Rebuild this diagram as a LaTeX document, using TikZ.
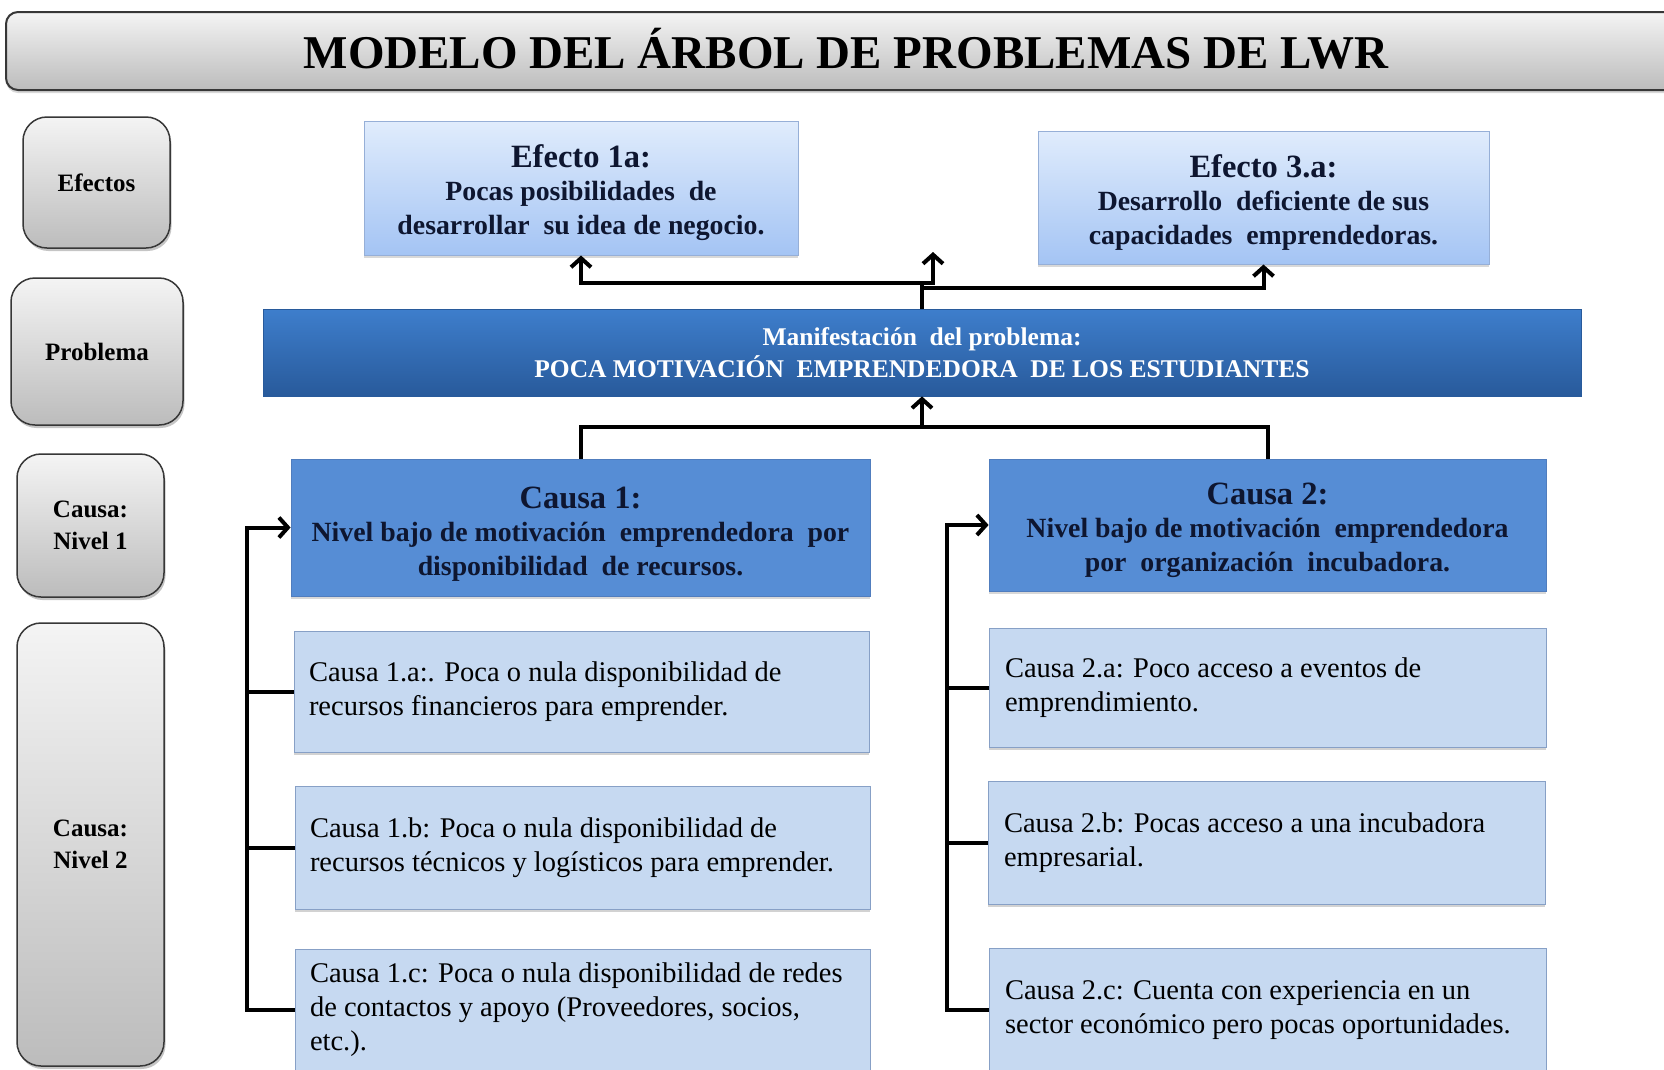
\documentclass[tikz,border=0pt]{standalone}
\usepackage{fontspec}
\setmainfont{Liberation Serif}
\usetikzlibrary{arrows.meta,shadows}
\definecolor{navytxt}{RGB}{14,22,48}
\definecolor{grayTop}{RGB}{244,244,244}
\definecolor{grayBot}{RGB}{188,188,188}
\definecolor{grayBd}{RGB}{55,55,55}
\definecolor{efTop}{RGB}{224,236,252}
\definecolor{efBot}{RGB}{164,196,244}
\definecolor{efBd}{RGB}{150,175,215}
\definecolor{prTop}{RGB}{62,126,204}
\definecolor{prBot}{RGB}{40,90,155}
\definecolor{caFill}{RGB}{86,141,213}
\definecolor{caBd}{RGB}{80,125,190}
\definecolor{subFill}{RGB}{198,217,241}
\definecolor{subBd}{RGB}{135,160,198}
\newcommand{\hdf}{\fontsize{32.5}{36}\selectfont\bfseries}
\newcommand{\bdf}{\fontsize{27.8}{34}\selectfont\bfseries}
\begin{document}
\begin{tikzpicture}[x=1pt,y=-1pt,
  base/.style={rectangle, inner sep=0pt, anchor=center},
  graybox/.style={base, rounded corners=24pt, top color=grayTop, bottom color=grayBot,
     draw=grayBd, line width=1.5pt, align=center, text=black,
     drop shadow={shadow xshift=1.5pt, shadow yshift=-3pt, opacity=0.45, fill=gray}},
  titlebox/.style={base, rounded corners=12pt, top color=grayTop, bottom color=grayBot,
     draw=grayBd, line width=2pt,
     drop shadow={shadow xshift=0pt, shadow yshift=-3pt, opacity=0.3, fill=gray}},
  efbox/.style={base, top color=efTop, bottom color=efBot, draw=efBd, line width=1pt,
     align=center, text=navytxt, font=\bdf,
     drop shadow={shadow xshift=0pt, shadow yshift=-3pt, opacity=0.3, fill=gray}},
  probbox/.style={base, top color=prTop, bottom color=prBot, draw=prBot, line width=0.8pt,
     align=center, text=white},
  causebox/.style={base, fill=caFill, draw=caBd, line width=0.8pt, align=center, text=navytxt,
     font=\bdf,
     drop shadow={shadow xshift=0pt, shadow yshift=-3pt, opacity=0.3, fill=gray}},
  subbox/.style={base, fill=subFill, draw=subBd, line width=1pt, align=flush left,
     text=black,
     drop shadow={shadow xshift=0pt, shadow yshift=-3pt, opacity=0.35, fill=gray}},
  conn/.style={line width=4pt, draw=black},
  arr/.style={conn, -{Straight Barb[length=9pt,width=20pt]}},
  subf/.style={font=\fontsize{28.5}{34}\selectfont},
  labf/.style={font=\fontsize{25}{32}\selectfont\bfseries}
]
\useasboundingbox (0,0) rectangle (1664,1069);
\fill[white] (0,0) rectangle (1664,1069);

% title
\node[titlebox, minimum width=1680pt, minimum height=78pt] (title) at (846,51)
  {\raisebox{6pt}{\fontsize{47}{52}\selectfont\bfseries MODELO DEL ÁRBOL DE PROBLEMAS DE LWR}};

% left labels
\node[graybox, labf, minimum width=147pt, minimum height=131pt] (lef) at (96.5,182.5) {Efectos};
\node[graybox, labf, minimum width=172pt, minimum height=147pt] (lpr) at (97,351.5) {Problema};
\node[graybox, labf, minimum width=147pt, minimum height=143pt] (ln1) at (90.5,525.5) {Causa:\\Nivel 1};
\node[graybox, labf, minimum width=147pt, minimum height=443pt] (ln2) at (90.5,844.5) {Causa:\\Nivel 2};

% effects
\node[efbox, minimum width=434pt, minimum height=134pt] (ef1) at (581,188)
  {\hdf\rule{0pt}{33pt}Efecto 1a:\\[-1pt]Pocas posibilidades\ \ de\\desarrollar\ \ su idea de negocio.};
\node[efbox, minimum width=451pt, minimum height=133pt] (ef3) at (1263.5,197.5)
  {\hdf\rule{0pt}{33pt}Efecto 3.a:\\[-1pt]Desarrollo\ \ deficiente de sus\\capacidades\ \ emprendedoras.};

% problem
\node[probbox, minimum width=1318pt, minimum height=87pt,
      font=\fontsize{25.5}{32}\selectfont\bfseries] (prob) at (922,352.5)
  {Manifestación\ \ del problema:\\POCA MOTIVACIÓN\ \ EMPRENDEDORA\ \ DE LOS ESTUDIANTES};

% level-1 causes
\node[causebox, minimum width=579pt, minimum height=137pt] (c1) at (580.5,527.5)
  {\hdf\rule{0pt}{34pt}Causa 1:\\[-1pt]Nivel bajo de motivación\ \ emprendedora\ \ por\\disponibilidad\ \ de recursos.};
\node[causebox, minimum width=557pt, minimum height=132pt] (c2) at (1267.5,525)
  {\hdf\rule{0pt}{33pt}Causa 2:\\[-1pt]Nivel bajo de motivación\ \ emprendedora\\por\ \ organización\ \ incubadora.};

% level-2 causes
\node[subbox, subf, minimum width=575pt, minimum height=121pt, text width=545pt] (c1a) at (581.5,691.5)
  {Causa 1.a:. Poca o nula disponibilidad de\\recursos financieros para emprender.};
\node[subbox, subf, minimum width=575pt, minimum height=123pt, text width=545pt] (c1b) at (582.5,847.5)
  {Causa 1.b: Poca o nula disponibilidad de\\recursos técnicos y logísticos para emprender.};
\node[subbox, subf, minimum width=575pt, minimum height=122pt, text width=545pt] (c1c) at (582.5,1010)
  {Causa 1.c: Poca o nula disponibilidad de redes\\de contactos y apoyo (Proveedores, socios,\\etc.).};
\node[subbox, subf, minimum width=557pt, minimum height=119pt, text width=525pt] (c2a) at (1267.5,687.5)
  {Causa 2.a: Poco acceso a eventos de\\emprendimiento.};
\node[subbox, subf, minimum width=557pt, minimum height=123pt, text width=525pt] (c2b) at (1266.5,842.5)
  {Causa 2.b: Pocas acceso a una incubadora\\empresarial.};
\node[subbox, subf, minimum width=557pt, minimum height=124pt, text width=525pt] (c2c) at (1267.5,1010)
  {Causa 2.c: Cuenta con experiencia en un\\sector económico pero pocas oportunidades.};

% connectors: problem -> effects
\coordinate (jt) at (922,283);
\coordinate (jt2) at (922,287.5);
\coordinate (e2tip) at (933,252);
\draw[conn] (prob.north) -- (jt);
\draw[arr] (jt) -| (ef1.south);
\draw[arr] (jt) -| (e2tip);
\draw[arr] (jt2) -| (ef3.south);

% causes -> problem
\coordinate (jb) at (922,427);
\draw[conn] (c1.north) |- (jb);
\draw[conn] (c2.north) |- (jb);
\draw[arr] (jb) -- (prob.south);

% left bracket
\coordinate (bx1) at (247,700);
\draw[arr] (c1c.west) -| (bx1) |- (c1.west);
\draw[conn] (c1a.west) -- (c1a.west -| bx1);
\draw[conn] (c1b.west) -- (c1b.west -| bx1);

% right bracket
\coordinate (bx2) at (947,700);
\draw[arr] (c2c.west) -| (bx2) |- (c2.west);
\draw[conn] (c2a.west) -- (c2a.west -| bx2);
\draw[conn] (c2b.west) -- (c2b.west -| bx2);
\end{tikzpicture}
\end{document}
